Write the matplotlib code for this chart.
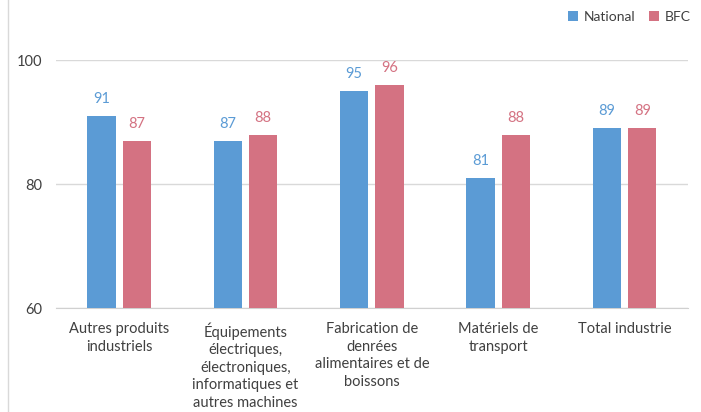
import matplotlib.pyplot as plt
import numpy as np
from matplotlib.lines import Line2D

categories = ["Autres produits\nindustriels",
              "Équipements\nélectriques,\nélectroniques,\ninformatiques et\nautres machines",
              "Fabrication de\ndenrées\nalimentaires et de\nboissons",
              "Matériels de\ntransport",
              "Total industrie"]
national = [91, 87, 95, 81, 89]
bfc = [87, 88, 96, 88, 89]

blue = '#5B9BD5'
pink = '#D47282'

plt.rcParams['font.family'] = ['Lato', 'DejaVu Sans']

fig = plt.figure(figsize=(7.01, 4.12), dpi=100)
ax = fig.add_axes([0.08, 0.252, 0.901, 0.602])

x = np.arange(len(categories))
w = 0.225
off = 0.14
ax.bar(x - off, national, w, color=blue, label='National', zorder=3)
ax.bar(x + off, bfc, w, color=pink, label='BFC', zorder=3)

for xi, v in zip(x, national):
    ax.text(xi - off, v + 1.6, str(v), ha='center', va='bottom', color=blue, fontsize=10.5, clip_on=False)
for xi, v in zip(x, bfc):
    ax.text(xi + off, v + 1.6, str(v), ha='center', va='bottom', color=pink, fontsize=10.5, clip_on=False)

ax.set_ylim(60, 100)
ax.set_xlim(-0.5, len(categories) - 0.5)
ax.set_yticks([60, 80, 100])
ax.set_xticks(x)
ax.set_xticklabels(categories, fontsize=10.5, color='#404040', linespacing=1.33, va='top')
ax.tick_params(axis='both', length=0, colors='#404040', labelsize=10.5)
ax.tick_params(axis='x', pad=10)
ax.tick_params(axis='y', pad=10)
ax.grid(axis='y', color='#d9d9d9', linewidth=1, zorder=0)
for s in ['top', 'right', 'left']:
    ax.spines[s].set_visible(False)
ax.spines['bottom'].set_color('#d0d0d0')

ax.legend(loc='upper right', bbox_to_anchor=(1.025, 1.25), ncol=2, frameon=False,
          fontsize=10, handlelength=0.75, handleheight=0.75, handletextpad=0.4,
          columnspacing=1.0, labelcolor='#404040')

fig.add_artist(Line2D([8 / 701, 8 / 701], [0, 1], color='#d9d9d9', linewidth=1))

fig.savefig('out.png', dpi=100)
